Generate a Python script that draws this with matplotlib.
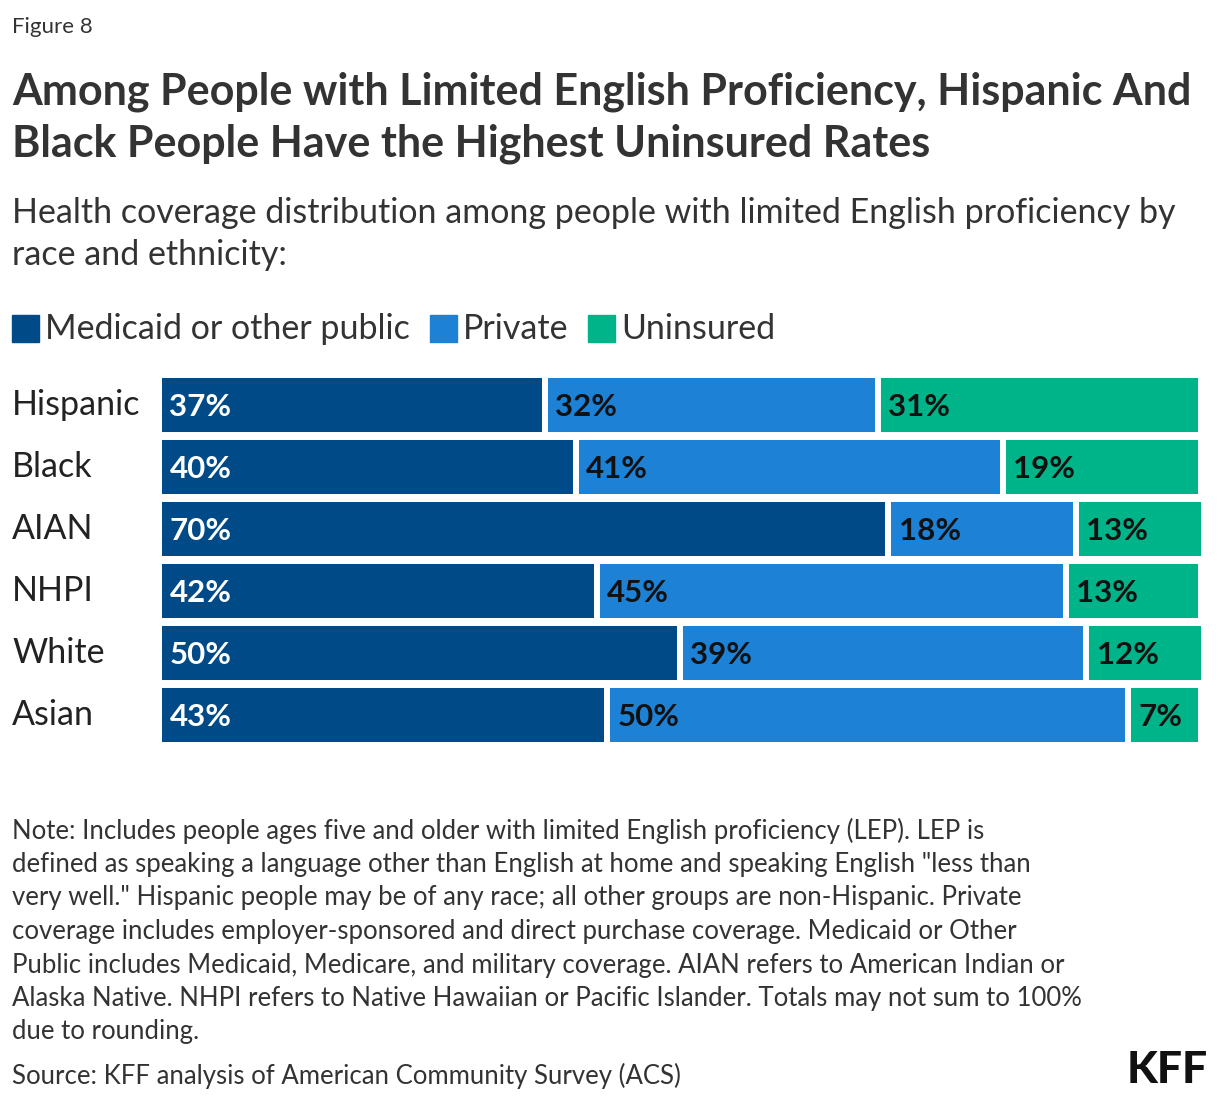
import matplotlib
matplotlib.use("Agg")
import matplotlib.pyplot as plt

plt.rcParams['font.family'] = ['Lato', 'DejaVu Sans']

groups = ["Hispanic", "Black", "AIAN", "NHPI", "White", "Asian"]
medicaid = [37, 40, 70, 42, 50, 43]
private = [32, 41, 18, 45, 39, 50]
uninsured = [31, 19, 13, 13, 12, 7]
series = [("Medicaid or other public", medicaid, "#004a87", "white"),
          ("Private", private, "#1d82d6", "#111111"),
          ("Uninsured", uninsured, "#00b48a", "#111111")]

W, H = 1220, 1102
fig = plt.figure(figsize=(W/100, H/100), dpi=100)
ax = fig.add_axes([159/W, 1-746/H, 1042/W, 372/H])
ax.set_xlim(0, 100)
ax.set_ylim(5.5, -0.5)
ax.axis('off')

lefts = [0]*len(groups)
for name, vals, col, tc in series:
    ax.barh(range(len(groups)), vals, left=lefts, height=0.968, color=col,
            edgecolor='white', linewidth=4.3)
    for i, v in enumerate(vals):
        ax.text(lefts[i] + 1.0, i + 0.03, f"{v}%", va='center', ha='left',
                fontsize=22.5, fontweight='bold', color=tc)
    lefts = [l + v for l, v in zip(lefts, vals)]

for i, g in enumerate(groups):
    fig.text(12/W, 1-(405+62*i)/H, g, fontsize=24.5, va='center', ha='left', color='#222222')

fig.text(12/W, 1-27/H, "Figure 8", fontsize=16, va='center', color='#333333')
fig.text(12/W, 1-92/H, "Among People with Limited English Proficiency, Hispanic And",
         fontsize=31, fontweight='bold', va='center', color='#333333')
fig.text(12/W, 1-144/H, "Black People Have the Highest Uninsured Rates",
         fontsize=31, fontweight='bold', va='center', color='#333333')
fig.text(12/W, 1-213/H, "Health coverage distribution among people with limited English proficiency by",
         fontsize=24.5, va='center', color='#333333')
fig.text(12/W, 1-255/H, "race and ethnicity:", fontsize=24.5, va='center', color='#333333')

# legend
lx = 12
for name, vals, col, tc in series:
    fig.patches.append(plt.Rectangle((lx/W, 1-342/H), 27/W, 27/H, color=col,
                                     transform=fig.transFigure, figure=fig))
    t = fig.text((lx+33)/W, 1-329/H, name, fontsize=24.5, va='center', color='#333333')
    fig.canvas.draw()
    bb = t.get_window_extent()
    lx = bb.x1 + 20

note = ['Note: Includes people ages five and older with limited English proficiency (LEP). LEP is',
        'defined as speaking a language other than English at home and speaking English "less than',
        'very well." Hispanic people may be of any race; all other groups are non-Hispanic. Private',
        'coverage includes employer-sponsored and direct purchase coverage. Medicaid or Other',
        'Public includes Medicaid, Medicare, and military coverage. AIAN refers to American Indian or',
        'Alaska Native. NHPI refers to Native Hawaiian or Pacific Islander. Totals may not sum to 100%',
        'due to rounding.']
for i, line in enumerate(note):
    fig.text(12/W, 1-(831+33.5*i)/H, line, fontsize=18.5, va='center', color='#333333')
fig.text(12/W, 1-1076/H, "Source: KFF analysis of American Community Survey (ACS)",
         fontsize=18.5, va='center', color='#333333')
fig.text(1208/W, 1-1070/H, "KFF", fontsize=32, fontweight='black', va='center', ha='right',
         color='#111111')

fig.savefig("out.png", dpi=100, facecolor='white')
